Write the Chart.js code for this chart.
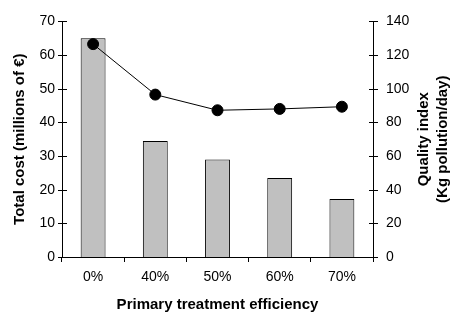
<!DOCTYPE html>
<html>
<head>
<meta charset="utf-8">
<script src="https://cdn.jsdelivr.net/npm/chart.js@4.4.1/dist/chart.umd.min.js"></script>
<style>
  body { margin: 0; background: #fff; }
  canvas { display: block; }
</style>
</head>
<body>
<canvas id="grafico" width="450" height="316"></canvas>
<script>
const eficiencia = ['0%', '40%', '50%', '60%', '70%']
const custoTotal = [65, 34.5, 29, 23.5, 17.2]
const indiceQualidade = [126.5, 96.5, 87.2, 88, 89.3]
const tituloDireita = ['Quality index', '(Kg pollution/day)']

Chart.defaults.color = '#000'
Chart.defaults.font.family = '"Liberation Sans", Arial, sans-serif'

// marcas de escala cruzando os eixos verticais + titulo do eixo da direita
const marcasEixos = {
  id: 'marcasEixos',
  afterDraw(chart) {
    const ctx = chart.ctx
    ctx.save()
    ctx.strokeStyle = '#000'
    ctx.lineWidth = 1
    for (const id of ['y', 'y1']) {
      const s = chart.scales[id]
      const x = Math.round(id === 'y' ? s.right : s.left)
      s.ticks.forEach(t => {
        const y = Math.round(s.getPixelForValue(t.value)) + 0.5
        ctx.beginPath()
        ctx.moveTo(x - 4, y)
        ctx.lineTo(x + 5, y)
        ctx.stroke()
      })
    }
    const a = chart.chartArea
    ctx.fillStyle = '#000'
    ctx.font = 'bold 15px "Liberation Sans", Arial, sans-serif'
    ctx.textAlign = 'center'
    ctx.textBaseline = 'middle'
    ctx.translate(433, (a.top + a.bottom) / 2)
    ctx.rotate(-Math.PI / 2)
    ctx.fillText(tituloDireita[0], 0, -9.5)
    ctx.fillText(tituloDireita[1], 0, 9.5)
    ctx.restore()
  }
}

new Chart(document.getElementById('grafico'), {
  data: {
    labels: eficiencia,
    datasets: [{
      type: 'line',
      data: indiceQualidade,
      yAxisID: 'y1',
      borderColor: '#000',
      borderWidth: 1,
      pointRadius: 5.5,
      pointBackgroundColor: '#000',
      pointBorderColor: '#000',
      order: 0
    }, {
      type: 'bar',
      data: custoTotal,
      yAxisID: 'y',
      backgroundColor: '#c0c0c0',
      borderColor: '#000',
      borderWidth: 1,
      barPercentage: 0.4,
      categoryPercentage: 1,
      order: 1
    }]
  },
  options: {
    responsive: false,
    animation: false,
    layout: { padding: { top: 16 } },
    plugins: { legend: { display: false }, tooltip: { enabled: false } },
    scales: {
      x: {
        afterFit(s) { s.height = 59 },
        grid: { display: true, drawOnChartArea: false, offset: true, tickLength: 5, color: '#000' },
        border: { color: '#000' },
        ticks: { font: { size: 14 }, padding: 7 },
        title: { display: true, text: 'Primary treatment efficiency', font: { size: 15, weight: 'bold' }, padding: { bottom: 2 } }
      },
      y: {
        position: 'left',
        min: 0, max: 70,
        afterFit(s) { s.width = 62 },
        grid: { display: false, drawTicks: false },
        border: { color: '#000' },
        ticks: { stepSize: 10, font: { size: 14 }, padding: 7 },
        title: { display: true, text: 'Total cost (millions of €)', font: { size: 15, weight: 'bold' }, padding: { top: 11 } }
      },
      y1: {
        position: 'right',
        min: 0, max: 140,
        afterFit(s) { s.width = 77 },
        grid: { display: false, drawTicks: false },
        border: { color: '#000' },
        ticks: { stepSize: 20, font: { size: 14 }, padding: 13 }
      }
    }
  },
  plugins: [marcasEixos]
})
</script>
</body>
</html>
